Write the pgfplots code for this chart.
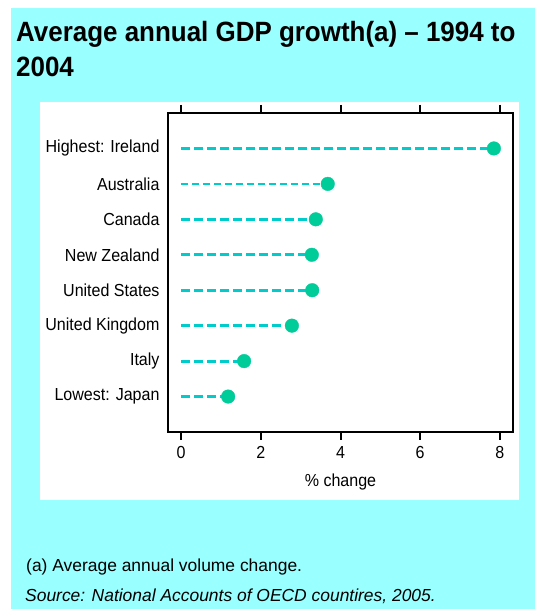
\documentclass[border=0pt]{standalone}
\usepackage{pgfplots}
\pgfplotsset{compat=1.18}
\usepackage{fontspec}
\setmainfont{Liberation Sans}
\newfontfamily\titlefont[FakeStretch=0.93]{Liberation Sans}
\newfontfamily\labelfont[FakeStretch=0.92]{Liberation Sans}
\definecolor{panelcyan}{RGB}{153,255,255}
\definecolor{linecyan}{RGB}{0,204,204}
\definecolor{dotgreen}{RGB}{0,204,153}
\begin{document}
\begin{tikzpicture}[x=1bp,y=1bp]
\useasboundingbox (0,0) rectangle (535,609);
\fill[white] (0,0) rectangle (535,609);
\fill[panelcyan] (11,0) rectangle (535,601);
\fill[white] (40,109) rectangle (519,507);
\node[anchor=base west,inner sep=0] at (16,567) {\titlefont\bfseries\fontsize{28}{34}\selectfont Average annual GDP growth(a) – 1994 to};
\node[anchor=base west,inner sep=0] at (16,532) {\titlefont\bfseries\fontsize{28}{34}\selectfont 2004};
\node[anchor=base west,inner sep=0] at (26,37) {\fontsize{17.5}{20}\selectfont (a) Average annual volume change.};
\node[anchor=base west,inner sep=0] at (25,7) {\fontsize{17.5}{20}\selectfont\itshape Source: National Accounts of OECD countires, 2005.};
\begin{axis}[
  at={(168bp,177bp)}, anchor=south west,
  scale only axis, width=345bp, height=319bp,
  xmin=-0.33, xmax=8.33, ymin=0, ymax=9,
  xtick={0,2,4,6,8},
  ytick={1,2,3,4,5,6,7,8},
  yticklabels={Lowest: Japan, Italy, United Kingdom, United States, New Zealand, Canada, Australia, Highest: Ireland},
  tick align=outside,
  major tick length=8bp,
  x tick style={line width=2bp, black},
  y tick style={draw=none},
  axis line style={line width=2.8bp, black},
  xtick pos=both,
  ytick pos=left,
  ticklabel style={font=\labelfont\fontsize{17.5}{20}\selectfont},
  xticklabel style={yshift=-3bp},
  yticklabel style={xshift=3bp},
  /pgf/number format/assume math mode=true,
  xlabel={\% change},
  xlabel style={font=\labelfont\fontsize{17.5}{20}\selectfont, at={(axis description cs:0.5,-0.157)}, anchor=center},
  clip=false,
]
\addplot[xcomb, color=linecyan, line width=3bp, dash pattern=on 9bp off 4bp] coordinates {
  (7.85,8) (3.38,6) (3.28,5) (3.29,4) (2.78,3) (1.58,2) (1.18,1)
};
\addplot[xcomb, color=linecyan, line width=1.8bp, dash pattern=on 7bp off 4bp] coordinates {
  (3.68,7)
};
\addplot[only marks, mark=*, mark size=6.8bp, color=dotgreen] coordinates {
  (7.85,8) (3.68,7) (3.38,6) (3.28,5) (3.29,4) (2.78,3) (1.58,2) (1.18,1)
};
\end{axis}
\end{tikzpicture}
\end{document}
